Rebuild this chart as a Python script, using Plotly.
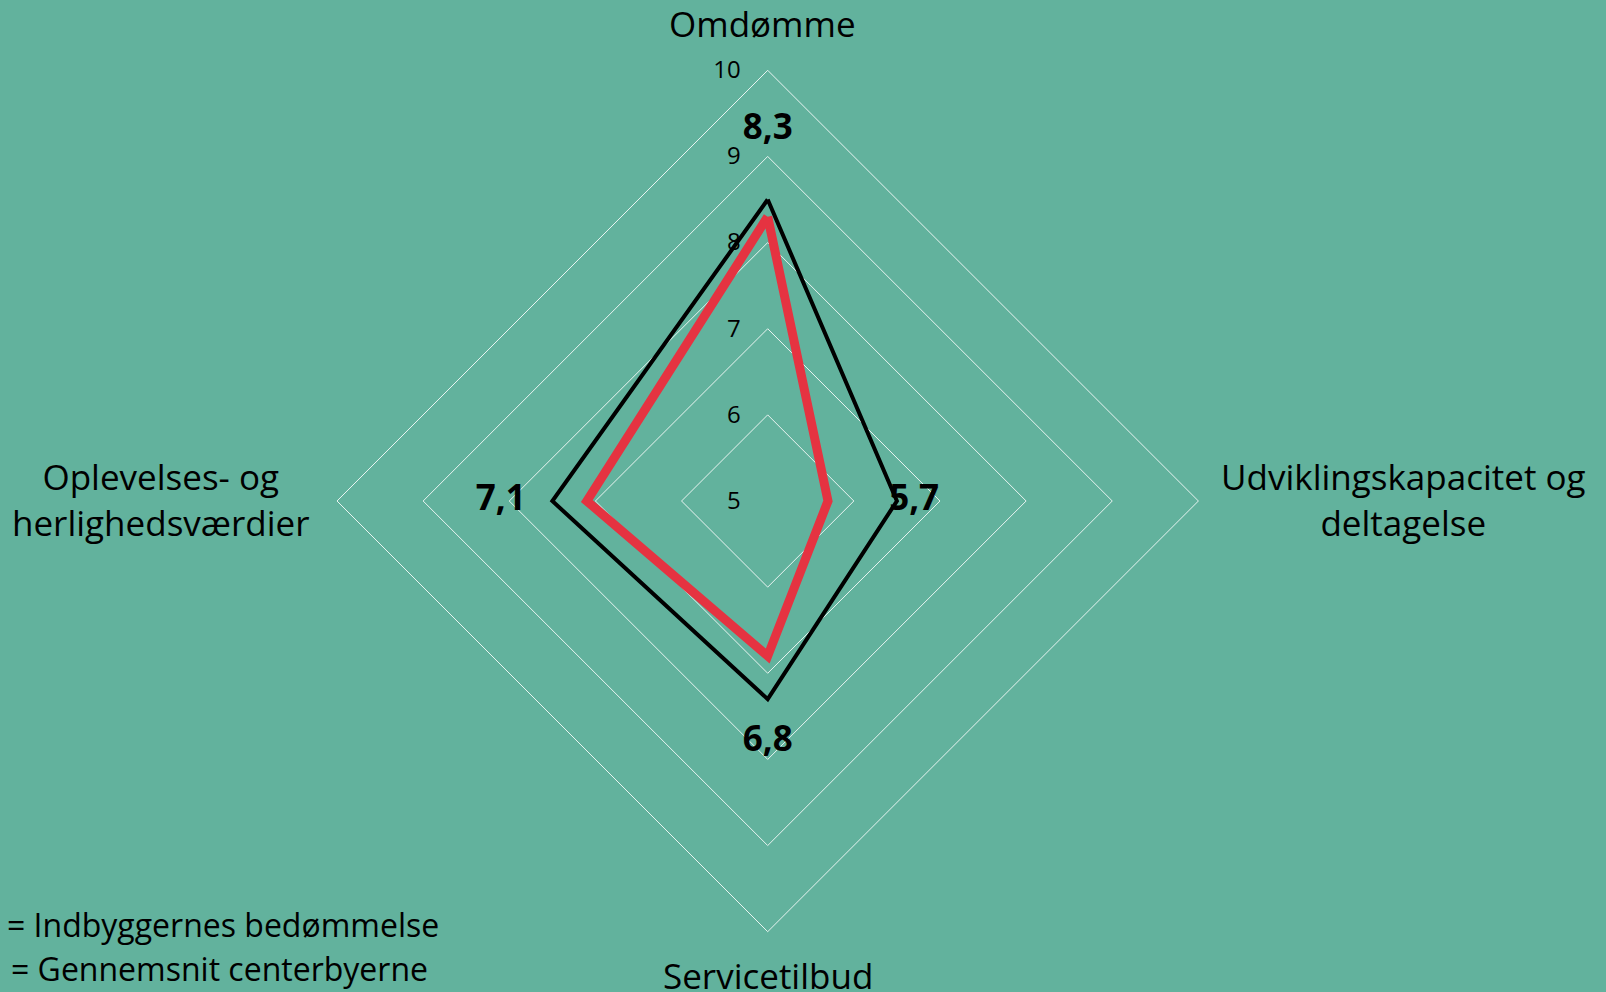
import plotly.graph_objects as go

# ---- data ----
categories = ["Omdømme", "Udviklingskapacitet og deltagelse", "Servicetilbud",
              "Oplevelses- og herlighedsværdier"]
category_labels = ["Omdømme", "Udviklingskapacitet og<br>deltagelse", "Servicetilbud",
                   "Oplevelses- og<br>herlighedsværdier"]
indbyggere = [8.3, 5.7, 6.8, 7.1]          # red series (labelled)
gennemsnit = [8.5, 6.5, 7.3, 7.5]          # black series
radial_ticks = [5, 6, 7, 8, 9, 10]
legend_texts = ["= Indbyggernes bedømmelse", "= Gennemsnit centerbyerne"]

BG = "#62B29D"
RED = "#E53341"
GRID = "rgba(255,255,255,0.85)"
FONT = "Open Sans"

W, H = 1606, 992
cx, cy, R = 767.7, 501.0, 430.7

fig = go.Figure()

fig.add_trace(go.Scatterpolar(
    r=gennemsnit + gennemsnit[:1], theta=categories + categories[:1],
    mode="lines", line=dict(color="black", width=4), hoverinfo="skip",
))
fig.add_trace(go.Scatterpolar(
    r=indbyggere + indbyggere[:1], theta=categories + categories[:1],
    mode="lines", line=dict(color=RED, width=9), hoverinfo="skip",
))
# data labels placed one unit outside the red series
fig.add_trace(go.Scatterpolar(
    r=[v + 1 for v in indbyggere], theta=categories,
    mode="text", text=[f"{v:.1f}".replace(".", ",") for v in indbyggere],
    textfont=dict(family=FONT, size=35, color="black", weight="bold"),
    textposition="middle center", hoverinfo="skip",
))

fig.update_layout(
    width=W, height=H,
    paper_bgcolor=BG, plot_bgcolor=BG,
    margin=dict(l=0, r=0, t=0, b=0),
    showlegend=False,
    font=dict(family=FONT, color="black"),
    polar=dict(
        bgcolor=BG,
        domain=dict(x=[(cx - R) / W, (cx + R) / W], y=[(H - cy - R) / H, (H - cy + R) / H]),
        gridshape="linear",
        radialaxis=dict(
            range=[5, 10], tickvals=radial_ticks, ticktext=[str(t) for t in radial_ticks],
            angle=90, side="counterclockwise", tickangle=90,
            showline=False, ticks="outside", ticklen=18, tickcolor="rgba(0,0,0,0)",
            gridcolor=GRID, gridwidth=1,
            tickfont=dict(family=FONT, size=24, color="black"),
        ),
        angularaxis=dict(
            categoryorder="array", categoryarray=categories,
            rotation=90, direction="clockwise",
            showgrid=False, showline=True, linecolor=GRID, linewidth=1,
            ticks="", showticklabels=False,
        ),
    ),
)

# category labels
cat_pos = [(cx - 5, 24), (1403, 499), (cx, 975), (160, 499)]
for lab, (x, y) in zip(category_labels, cat_pos):
    fig.add_annotation(x=x / W, y=1 - y / H, xref="paper", yref="paper", text=lab,
                       showarrow=False, xanchor="center", yanchor="middle", align="center",
                       font=dict(family=FONT, size=35, color="black"))

# legend texts
for txt, (x, y) in zip(legend_texts, [(5, 924), (9, 968)]):
    fig.add_annotation(x=x / W, y=1 - y / H, xref="paper", yref="paper", text=txt,
                       showarrow=False, xanchor="left", yanchor="middle",
                       font=dict(family=FONT, size=32, color="black"))

fig.write_html("out.html", config={"displayModeBar": False},
               post_script="document.body.style.margin='0';document.body.style.overflow='hidden';")
